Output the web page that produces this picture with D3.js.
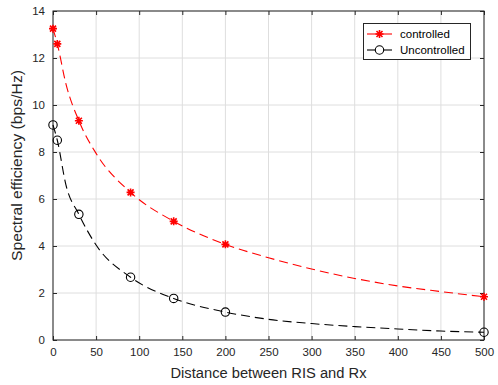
<!DOCTYPE html>
<html>
<head>
<meta charset="utf-8">
<script src="https://cdn.jsdelivr.net/npm/d3@7"></script>
<style>
  body { margin: 0; background: #fff; }
  svg { font-family: "Liberation Sans", Arial, sans-serif; }
</style>
</head>
<body>
<div id="chart"></div>
<script>
// marker points
var distance = [0, 5, 30, 90, 140, 200, 500]
var controlled = [13.25, 12.6, 9.33, 6.28, 5.05, 4.07, 1.84]
var uncontrolled = [9.15, 8.5, 5.35, 2.67, 1.77, 1.19, 0.33]

// points
var curveX = [0, 5, 15, 30, 50, 90, 140, 200, 250, 300, 350, 400, 450, 500]
var controlledCurve = [13.25, 12.6, 10.9, 9.33, 7.94, 6.28, 5.05, 4.07, 3.5, 3.02, 2.62, 2.3, 2.06, 1.84]
var uncontrolledCurve = [9.15, 8.5, 6.6, 5.35, 4.04, 2.67, 1.77, 1.19, 0.88, 0.7, 0.57, 0.47, 0.38, 0.33]

var xTicks = [0, 50, 100, 150, 200, 250, 300, 350, 400, 450, 500]
var yTicks = [0, 2, 4, 6, 8, 10, 12, 14]

var width = 498, height = 385
var margin = {top: 11, right: 14, bottom: 45, left: 53}
var axisColor = "#262626"

var svg = d3.select("#chart").append("svg")
    .attr("width", width)
    .attr("height", height)

var x = d3.scaleLinear().domain([0, 500]).range([margin.left, width - margin.right])
var y = d3.scaleLinear().domain([0, 14]).range([height - margin.bottom, margin.top])

// grid
var grid = svg.append("g")
grid.selectAll(".gx").data(xTicks).enter().append("line")
    .attr("x1", d => x(d)).attr("x2", d => x(d))
    .attr("y1", y(0)).attr("y2", y(14))
    .style("stroke", "#dedede").style("stroke-width", 1)
grid.selectAll(".gy").data(yTicks).enter().append("line")
    .attr("x1", x(0)).attr("x2", x(500))
    .attr("y1", d => y(d)).attr("y2", d => y(d))
    .style("stroke", "#dedede").style("stroke-width", 1)

// axes, ticks inside, mirrored
function styleAxis(g) {
    g.select(".domain").remove()
    g.selectAll("line").style("stroke", axisColor)
    g.selectAll("text").style("fill", axisColor).style("font-size", "11.5px")
}

svg.append("g")
    .attr("transform", "translate(0," + y(0) + ")")
    .call(d3.axisBottom(x).tickValues(xTicks).tickSizeInner(-4).tickSizeOuter(0).tickPadding(8))
    .call(styleAxis)
svg.append("g")
    .attr("transform", "translate(0," + y(14) + ")")
    .call(d3.axisTop(x).tickValues(xTicks).tickSizeInner(-4).tickSizeOuter(0).tickFormat(""))
    .call(styleAxis)
svg.append("g")
    .attr("transform", "translate(" + x(0) + ",0)")
    .call(d3.axisLeft(y).tickValues(yTicks).tickSizeInner(-4).tickSizeOuter(0).tickPadding(8))
    .call(styleAxis)
svg.append("g")
    .attr("transform", "translate(" + x(500) + ",0)")
    .call(d3.axisRight(y).tickValues(yTicks).tickSizeInner(-4).tickSizeOuter(0).tickFormat(""))
    .call(styleAxis)

svg.append("rect")
    .attr("x", x(0)).attr("y", y(14))
    .attr("width", x(500) - x(0)).attr("height", y(0) - y(14))
    .style("fill", "none").style("stroke", axisColor).style("stroke-width", 1)

// labels
svg.append("text")
    .attr("x", 268.5).attr("y", 378)
    .attr("text-anchor", "middle")
    .attr("textLength", 196).attr("lengthAdjust", "spacingAndGlyphs")
    .style("font-size", "14px").style("fill", axisColor)
    .text("Distance between RIS and Rx")
svg.append("text")
    .attr("transform", "translate(22,165.5) rotate(-90)")
    .attr("text-anchor", "middle")
    .attr("textLength", 191).attr("lengthAdjust", "spacingAndGlyphs")
    .style("font-size", "14px").style("fill", axisColor)
    .text("Spectral efficiency (bps/Hz)")

// lines
var line = d3.line()
    .x(d => x(d[0]))
    .y(d => y(d[1]))
    .curve(d3.curveMonotoneX)

svg.append("path")
    .datum(d3.zip(curveX, controlledCurve))
    .attr("d", line)
    .style("fill", "none").style("stroke", "red").style("stroke-width", 1.1)
    .style("stroke-dasharray", "9,5")

svg.append("path")
    .datum(d3.zip(curveX, uncontrolledCurve))
    .attr("d", line)
    .style("fill", "none").style("stroke", "black").style("stroke-width", 1.1)
    .style("stroke-dasharray", "9,5")

// markers
function asterisk(g) {
    g.append("path").attr("d", "M-4,0H4M0,-4V4M-3,-3L3,3M-3,3L3,-3")
        .style("stroke", "red").style("stroke-width", 1.6).style("fill", "none")
}

svg.append("g").selectAll("g")
    .data(d3.zip(distance, controlled))
    .enter().append("g")
    .attr("transform", d => "translate(" + x(d[0]) + "," + y(d[1]) + ")")
    .call(asterisk)

svg.append("g").selectAll("circle")
    .data(d3.zip(distance, uncontrolled))
    .enter().append("circle")
    .attr("cx", d => x(d[0]))
    .attr("cy", d => y(d[1]))
    .attr("r", 4.2)
    .style("fill", "none").style("stroke", "black").style("stroke-width", 1.1)

// legend
var legend = svg.append("g")
legend.append("rect")
    .attr("x", 363.5).attr("y", 23.5).attr("width", 107).attr("height", 36)
    .style("fill", "white").style("stroke", axisColor).style("stroke-width", 1)

var items = [
    {label: "controlled", color: "red", cy: 34},
    {label: "Uncontrolled", color: "black", cy: 50}
]
items.forEach(function(item, i) {
    legend.append("line")
        .attr("x1", 367).attr("x2", 392)
        .attr("y1", item.cy).attr("y2", item.cy)
        .style("stroke", item.color).style("stroke-width", 1.1)
    if (i === 0) {
        legend.append("g").attr("transform", "translate(379.5," + item.cy + ")").call(asterisk)
    } else {
        legend.append("circle").attr("cx", 379.5).attr("cy", item.cy).attr("r", 4.2)
            .style("fill", "white").style("stroke", "black").style("stroke-width", 1.1)
    }
    legend.append("text")
        .attr("x", 400).attr("y", item.cy + 4)
        .style("font-size", "11.5px").style("fill", "black")
        .text(item.label)
})
</script>
</body>
</html>
